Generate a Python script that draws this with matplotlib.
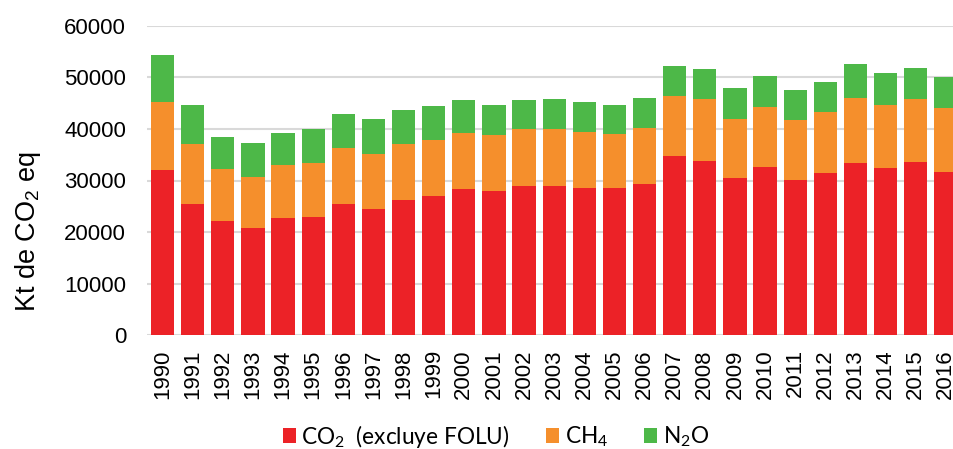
import matplotlib
matplotlib.use("Agg")
import matplotlib.pyplot as plt
from matplotlib.patches import Patch

plt.rcParams['font.family'] = ['Liberation Sans', 'DejaVu Sans']
plt.rcParams['mathtext.fontset'] = 'custom'
plt.rcParams['mathtext.rm'] = 'Liberation Sans'
plt.rcParams['mathtext.it'] = 'Liberation Sans'
plt.rcParams['mathtext.default'] = 'regular'

years = [str(y) for y in range(1990, 2017)]
co2 = [32030, 25440, 22090, 20790, 22670, 22870, 25440, 24540, 26220, 27000,
       28290, 27910, 28880, 28880, 28490, 28490, 29260, 34690, 33720, 30540,
       32620, 30160, 31460, 33330, 32420, 33530, 31650]
totals_co2_ch4 = [45270, 37070, 32230, 30680, 32950, 33330, 36300, 35190, 37070, 37790,
                  39260, 38760, 39920, 39920, 39460, 39070, 40230, 46430, 45740, 41920,
                  44190, 41790, 43280, 46050, 44570, 45800, 43990]
totals_all = [54320, 44570, 38370, 37270, 39150, 39920, 42890, 41920, 43600, 44380,
              45660, 44570, 45660, 45850, 45150, 44570, 46050, 52250, 51670, 47930,
              50250, 47540, 49090, 52520, 50780, 51860, 50000]
ch4 = [b - a for a, b in zip(co2, totals_co2_ch4)]
n2o = [c - b for b, c in zip(totals_co2_ch4, totals_all)]

labels = ["CO$_2$  (excluye FOLU)", "CH$_4$", "N$_2$O"]
colors = ["#EC2227", "#F58F2C", "#4DB848"]
yticks = [0, 10000, 20000, 30000, 40000, 50000, 60000]

W, H = 954, 449
fig = plt.figure(figsize=(W / 100, H / 100), dpi=100)
left_px, right_px = 147, 954
bot_px, top_px = 335.3, 25.7
ax = fig.add_axes([left_px / W, 1 - bot_px / H, (right_px - left_px) / W, (bot_px - top_px) / H])

x = list(range(len(years)))
bw = 0.77
ax.bar(x, co2, width=bw, color=colors[0], zorder=3)
ax.bar(x, ch4, width=bw, bottom=co2, color=colors[1], zorder=3)
ax.bar(x, n2o, width=bw, bottom=totals_co2_ch4, color=colors[2], zorder=3)

ax.set_xlim(-0.515, 26.27)
ax.set_ylim(0, 60000)
ax.set_yticks(yticks)
ax.set_yticklabels([str(v) for v in yticks], fontsize=16)
ax.set_xticks(x)
ax.set_xticklabels(years, rotation=90, fontsize=16)
ax.tick_params(axis='y', length=0, pad=15)
ax.tick_params(axis='x', length=0, pad=10)
ax.yaxis.grid(True, color='#D9D9D9', linewidth=1.5, zorder=0)
for s in ax.spines.values():
    s.set_visible(False)

fig.text(28 / W, 1 - 231 / H, "Kt de CO$_2$ eq", rotation=90, fontsize=19.5,
         ha='center', va='center')

handles = [Patch(facecolor=c, edgecolor='none') for c in colors]
leg = fig.legend(handles, labels, loc='center', bbox_to_anchor=(496 / W, 1 - 436 / H),
                 ncol=3, frameon=False, prop={'family': ['Lato', 'DejaVu Sans'], 'size': 16.3},
                 handlelength=0.58, handleheight=0.58, handletextpad=0.25, columnspacing=1.6,
                 borderpad=0)

fig.savefig("out.png", dpi=100)
